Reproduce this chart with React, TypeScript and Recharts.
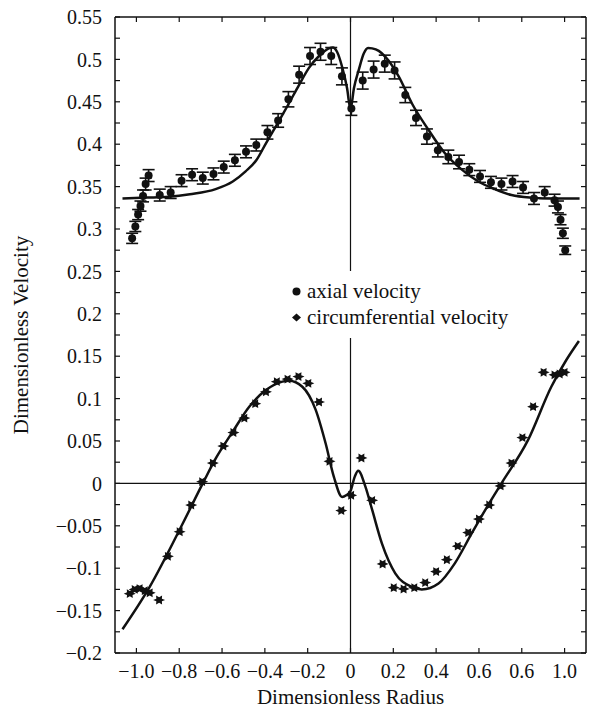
import React from 'react';
import {
  ComposedChart,
  XAxis,
  YAxis,
  Scatter,
  Line,
  ErrorBar,
  ReferenceLine,
  Legend,
  Label,
} from 'recharts';

const FONT = '"Liberation Serif", "Times New Roman", serif';
const INK = '#111';

// axial velocity measurements (dots with error bars)
const axialX = [
  -1.02, -1.005, -0.992, -0.981, -0.969, -0.957, -0.943, -0.891, -0.84, -0.789,
  -0.74, -0.69, -0.64, -0.592, -0.54, -0.488, -0.44, -0.388, -0.338, -0.29,
  -0.24, -0.189, -0.14, -0.09, -0.04, 0.004, 0.057, 0.108, 0.16, 0.206,
  0.256, 0.306, 0.357, 0.408, 0.457, 0.507, 0.555, 0.605, 0.656, 0.705,
  0.757, 0.806, 0.857, 0.907, 0.953, 0.969, 0.981, 0.992, 1.003,
];
const axialY = [
  0.289, 0.303, 0.317, 0.327, 0.339, 0.353, 0.363, 0.34, 0.343, 0.357,
  0.364, 0.36, 0.365, 0.373, 0.381, 0.391, 0.399, 0.414, 0.428, 0.453,
  0.482, 0.504, 0.509, 0.504, 0.48, 0.442, 0.475, 0.488, 0.495, 0.487,
  0.458, 0.431, 0.409, 0.393, 0.385, 0.379, 0.37, 0.362, 0.355, 0.353,
  0.356, 0.349, 0.336, 0.343, 0.334, 0.326, 0.311, 0.295, 0.275,
];
const axialErr = [
  0.006, 0.006, 0.006, 0.006, 0.007, 0.007, 0.007, 0.007, 0.007, 0.007,
  0.007, 0.007, 0.007, 0.007, 0.007, 0.007, 0.007, 0.008, 0.008, 0.009,
  0.01, 0.01, 0.01, 0.01, 0.01, 0.008, 0.01, 0.01, 0.01, 0.01,
  0.009, 0.009, 0.009, 0.008, 0.008, 0.008, 0.007, 0.007, 0.007, 0.007,
  0.007, 0.007, 0.007, 0.007, 0.007, 0.007, 0.006, 0.006, 0.005,
];

// circumferential velocity measurements (diamonds)
const circX = [
  -1.031, -1.008, -0.985, -0.961, -0.938, -0.894, -0.853, -0.798, -0.744, -0.693,
  -0.643, -0.594, -0.547, -0.496, -0.445, -0.395, -0.344, -0.294, -0.243, -0.197,
  -0.147, -0.098, -0.043, 0.003, 0.051, 0.101, 0.15, 0.202, 0.248, 0.298,
  0.349, 0.4, 0.45, 0.501, 0.55, 0.6, 0.648, 0.701, 0.752, 0.803,
  0.853, 0.902, 0.953, 0.977, 1.0,
];
const circY = [
  -0.13, -0.125, -0.124, -0.1265, -0.129, -0.1375, -0.086, -0.057, -0.0255, 0.002,
  0.024, 0.044, 0.06, 0.077, 0.094, 0.108, 0.12, 0.123, 0.126, 0.118,
  0.096, 0.026, -0.032, -0.014, 0.03, -0.02, -0.095, -0.123, -0.1245, -0.123,
  -0.117, -0.104, -0.09, -0.074, -0.058, -0.042, -0.0255, -0.003, 0.024, 0.054,
  0.0905, 0.131, 0.128, 0.129, 0.131,
];

// model curves
const axialFitX = [
  -1.065, -0.95, -0.85, -0.75, -0.63, -0.55, -0.49, -0.44, -0.395, -0.335,
  -0.288, -0.24, -0.194, -0.147, -0.101, -0.082, -0.063, -0.039, -0.016, 0,
  0.016, 0.039, 0.062, 0.082, 0.101, 0.132, 0.163, 0.225, 0.287, 0.364,
  0.442, 0.52, 0.597, 0.674, 0.752, 0.845, 0.95, 1.07,
];
const axialFitY = [
  0.336, 0.337, 0.338, 0.341, 0.347, 0.356, 0.368, 0.381, 0.401, 0.427,
  0.448, 0.47, 0.49, 0.504, 0.513, 0.514, 0.509, 0.491, 0.466, 0.441,
  0.466, 0.488, 0.507, 0.5135, 0.513, 0.51, 0.503, 0.48, 0.448, 0.417,
  0.389, 0.37, 0.356, 0.347, 0.34, 0.337, 0.336, 0.336,
];
const circFitX = [
  -1.065, -0.938, -0.783, -0.69, -0.628, -0.55, -0.473, -0.395, -0.318, -0.287,
  -0.225, -0.163, -0.116, -0.078, -0.039, -0.02, 0, 0.02, 0.036, 0.07,
  0.101, 0.147, 0.209, 0.287, 0.333, 0.411, 0.488, 0.566, 0.643, 0.705,
  0.829, 0.938, 1.008, 1.067,
];
const circFitY = [
  -0.172, -0.122, -0.047, 0.0, 0.03, 0.061, 0.0905, 0.11, 0.12, 0.121,
  0.114, 0.087, 0.047, 0.008, -0.016, -0.014, -0.009, 0.008, 0.015, -0.004,
  -0.031, -0.071, -0.106, -0.122, -0.125, -0.118, -0.094, -0.059, -0.0255, 0.0,
  0.051, 0.114, 0.1455, 0.168,
];

const xTicks = [-1, -0.8, -0.6, -0.4, -0.2, 0, 0.2, 0.4, 0.6, 0.8, 1];
const xTickLabels = ['−1.0', '−0.8', '−0.6', '−0.4', '−0.2', '0', '0.2', '0.4', '0.6', '0.6', '1.0'];
const yMajorTicks = [
  -0.2, -0.15, -0.1, -0.05, 0, 0.05, 0.1, 0.15, 0.2, 0.25, 0.3, 0.35, 0.4, 0.45, 0.5, 0.55,
];
const yTickLabels = [
  '−0.2', '−0.15', '−0.1', '−0.05', '0', '0.05', '0.1', '0.15', '0.2', '0.25',
  '0.3', '0.35', '0.4', '0.45', '0.5', '0.55',
];
const yMinorTicks = [
  -0.175, -0.125, -0.075, -0.025, 0.025, 0.075, 0.125, 0.175, 0.225, 0.275,
  0.325, 0.375, 0.425, 0.475, 0.525,
];
const yAllTicks = [...yMajorTicks, ...yMinorTicks].sort((a, b) => a - b);

const axialData = axialX.map((x, i) => ({ x, y: axialY[i], err: axialErr[i] }));
const circData = circX.map((x, i) => ({ x, y: circY[i] }));
const axialFit = axialFitX.map((x, i) => ({ x, y: axialFitY[i] }));
const circFit = circFitX.map((x, i) => ({ x, y: circFitY[i] }));

const findIdx = (arr: number[], v: number) => arr.findIndex((t) => Math.abs(t - v) < 1e-6);

function XTick({ x, y, payload }: any) {
  const i = findIdx(xTicks, payload.value);
  return (
    <text x={x} y={y} dy="0.71em" textAnchor="middle" fontFamily={FONT} fontSize={20} fill={INK}>
      {i >= 0 ? xTickLabels[i] : ''}
    </text>
  );
}

function YTick({ x, y, payload }: any) {
  const i = findIdx(yMajorTicks, payload.value);
  if (i < 0) return <g />;
  return (
    <text x={x} y={y} dy="0.355em" textAnchor="end" fontFamily={FONT} fontSize={20} fill={INK}>
      {yTickLabels[i]}
    </text>
  );
}

const NoLabel = () => <g />;

function Dot({ cx, cy }: any) {
  return <circle cx={cx} cy={cy} r={4} fill={INK} />;
}

function StarMark({ cx, cy }: any) {
  const pts: string[] = [];
  for (let k = 0; k < 12; k++) {
    const r = k % 2 === 0 ? 6 : 3.2;
    const a = (k * Math.PI) / 6;
    pts.push(`${cx + r * Math.cos(a)},${cy + r * Math.sin(a) * 0.85}`);
  }
  return <polygon points={pts.join(' ')} fill={INK} />;
}

function LegendBox() {
  return (
    <div
      style={{
        background: '#fff',
        padding: '7px 8px 8px 5px',
        fontFamily: FONT,
        fontSize: 21,
        lineHeight: '26px',
        color: INK,
        whiteSpace: 'nowrap',
      }}
    >
      <div style={{ display: 'flex', alignItems: 'center' }}>
        <svg width={11} height={11}>
          <circle cx={5.5} cy={5.5} r={4} fill={INK} />
        </svg>
        <span style={{ marginLeft: 5 }}>axial velocity</span>
      </div>
      <div style={{ display: 'flex', alignItems: 'center' }}>
        <svg width={11} height={11}>
          <path d="M1,5.5 L5.5,1.5 L10,5.5 L5.5,9.5 Z" fill={INK} />
        </svg>
        <span style={{ marginLeft: 5 }}>circumferential velocity</span>
      </div>
    </div>
  );
}

export default function App() {
  const axisLine = { stroke: INK, strokeWidth: 1.5 };
  const tickLine = { stroke: INK, strokeWidth: 1.2 };
  return (
    <div style={{ position: 'absolute', left: 0, top: 0, background: '#fff', fontFamily: FONT }}>
      <ComposedChart width={589} height={710} margin={{ top: 0, right: 0, bottom: 0, left: 0 }}>
        <XAxis
          dataKey="x"
          type="number"
          domain={[-1.1, 1.1]}
          ticks={xTicks}
          interval={0}
          allowDataOverflow
          height={57}
          tickSize={-5}
          tickMargin={16}
          axisLine={axisLine}
          tickLine={tickLine}
          tick={<XTick />}
        >
          <Label
            value="Dimensionless Radius"
            position="insideBottom"
            offset={6}
            fontFamily={FONT}
            fontSize={21}
            fill={INK}
          />
        </XAxis>
        <XAxis
          xAxisId="top"
          orientation="top"
          dataKey="x"
          type="number"
          domain={[-1.1, 1.1]}
          ticks={xTicks}
          interval={0}
          allowDataOverflow
          height={17}
          tickSize={-5}
          axisLine={axisLine}
          tickLine={tickLine}
          tick={<NoLabel />}
        />
        <YAxis
          dataKey="y"
          type="number"
          domain={[-0.2, 0.55]}
          ticks={yAllTicks}
          interval={0}
          allowDataOverflow
          width={115}
          tickSize={-5}
          tickMargin={18}
          axisLine={axisLine}
          tickLine={tickLine}
          tick={<YTick />}
        >
          <Label
            value="Dimensionless Velocity"
            angle={-90}
            position="insideLeft"
            offset={21}
            fontFamily={FONT}
            fontSize={21}
            fill={INK}
            style={{ textAnchor: 'middle' }}
          />
        </YAxis>
        <YAxis
          yAxisId="right"
          orientation="right"
          type="number"
          domain={[-0.2, 0.55]}
          ticks={yAllTicks}
          interval={0}
          allowDataOverflow
          width={3}
          tickSize={-5}
          axisLine={axisLine}
          tickLine={tickLine}
          tick={<NoLabel />}
        />
        <ReferenceLine x={0} stroke={INK} strokeWidth={1.2} />
        <ReferenceLine y={0} stroke={INK} strokeWidth={1.2} />
        <Line
          data={axialFit}
          dataKey="y"
          type="monotone"
          stroke={INK}
          strokeWidth={2.5}
          dot={false}
          legendType="none"
          isAnimationActive={false}
        />
        <Line
          data={circFit}
          dataKey="y"
          type="monotone"
          stroke={INK}
          strokeWidth={2.5}
          dot={false}
          legendType="none"
          isAnimationActive={false}
        />
        <Scatter data={axialData} dataKey="y" shape={<Dot />} isAnimationActive={false}>
          <ErrorBar dataKey="err" direction="y" width={6} stroke={INK} strokeWidth={1.6} />
        </Scatter>
        <Scatter data={circData} dataKey="y" shape={<StarMark />} isAnimationActive={false} />
        <Legend
          layout="vertical"
          align="center"
          verticalAlign="middle"
          content={() => <LegendBox />}
          wrapperStyle={{ left: 286, top: 271, width: 'auto', height: 'auto' }}
        />
      </ComposedChart>
    </div>
  );
}
